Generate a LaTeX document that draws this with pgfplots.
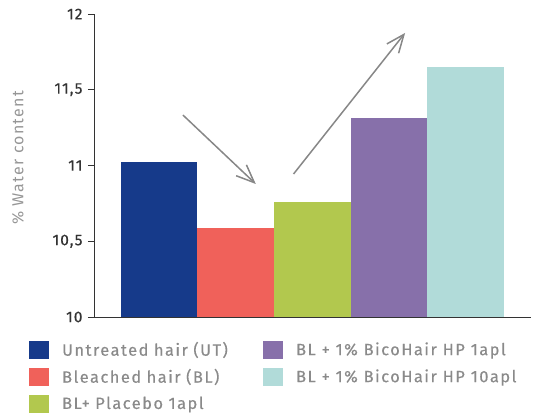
\documentclass[border=0pt]{standalone}
\usepackage{pgfplots}
\pgfplotsset{compat=1.18}
\usepackage{fontspec}
\setmainfont{Fira Sans}
\newfontfamily\dinfont{Fira Sans}[LetterSpace=8]
\newfontfamily\dinmed{Fira Sans}[LetterSpace=7, FakeBold=0.4]
\newfontfamily\dinleg{Fira Sans}[LetterSpace=9, FakeBold=0.4]
\usetikzlibrary{arrows.meta}
\definecolor{cUT}{HTML}{163A8A}
\definecolor{cBL}{HTML}{F0615A}
\definecolor{cPL}{HTML}{B2C84E}
\definecolor{cA1}{HTML}{8770AA}
\definecolor{cA10}{HTML}{B1DBD9}
\definecolor{txtgray}{HTML}{8A8A8A}
\definecolor{axgray}{HTML}{333333}
\definecolor{arrgray}{HTML}{878787}
\begin{document}
\begin{tikzpicture}
\begin{axis}[
  scale only axis, width=437bp, height=303bp,
  xmin=-0.85, xmax=4.85, ymin=10, ymax=12,
  ytick={10,10.5,11,11.5,12},
  xtick=\empty,
  axis x line*=bottom, axis y line*=left,
  axis line style={draw=axgray, line width=0.8bp, -},
  tick align=outside, major tick length=6bp,
  tick style={axgray, line width=0.8bp},
  /pgf/number format/assume math mode=true,
  y tick label style={font=\dinmed\fontsize{15.5}{18}\selectfont, color=axgray, /pgf/number format/use comma, xshift=-2bp},
  ylabel={\% Water content},
  ylabel style={font=\dinfont\fontsize{16}{19}\selectfont, color=txtgray!90, at={(axis description cs:-0.174,0.525)}, anchor=center},
  ybar, bar width=1, bar shift=0pt,
  legend columns=2,
  legend image code/.code={\fill[#1] (0bp,-9bp) rectangle (20bp,9bp);},
  legend style={draw=none, fill=none, inner sep=0pt,
    at={(-0.149,-0.077)}, anchor=north west,
    font=\dinleg\fontsize{16.5}{20}\selectfont, text=txtgray,
    row sep=9bp,
    nodes={inner sep=0pt},
    /tikz/every odd column/.append style={column sep=13bp},
    /tikz/column 2/.append style={text width=201bp},
  },
  legend cell align=left,
  clip=false,
]
\addplot[fill=cUT, draw=none] coordinates {(0,11.023)};
\addlegendentry{Untreated hair (UT)}
\addplot[fill=cA1, draw=none] coordinates {(3,11.313)};
\addlegendentry{BL + 1\% BicoHair HP 1apl}
\addplot[fill=cBL, draw=none] coordinates {(1,10.587)};
\addlegendentry{Bleached hair (BL)}
\addplot[fill=cA10, draw=none] coordinates {(4,11.65)};
\addlegendentry{BL + 1\% BicoHair HP 10apl}
\addplot[fill=cPL, draw=none] coordinates {(2,10.759)};
\addlegendentry{BL+ Placebo 1apl}
\draw[arrgray, line width=1.5bp, -{Straight Barb[length=18bp, width=15bp, line width=1.5bp]}] (axis cs:0.31,11.333) -- (axis cs:1.26,10.878);
\draw[arrgray, line width=1.5bp, -{Straight Barb[length=18bp, width=15bp, line width=1.5bp]}] (axis cs:1.753,10.944) -- (axis cs:3.208,11.875);
\end{axis}
\path (current axis.south west) ++(-94bp,-102bp) rectangle ++(538bp,419bp);
\end{tikzpicture}
\end{document}
